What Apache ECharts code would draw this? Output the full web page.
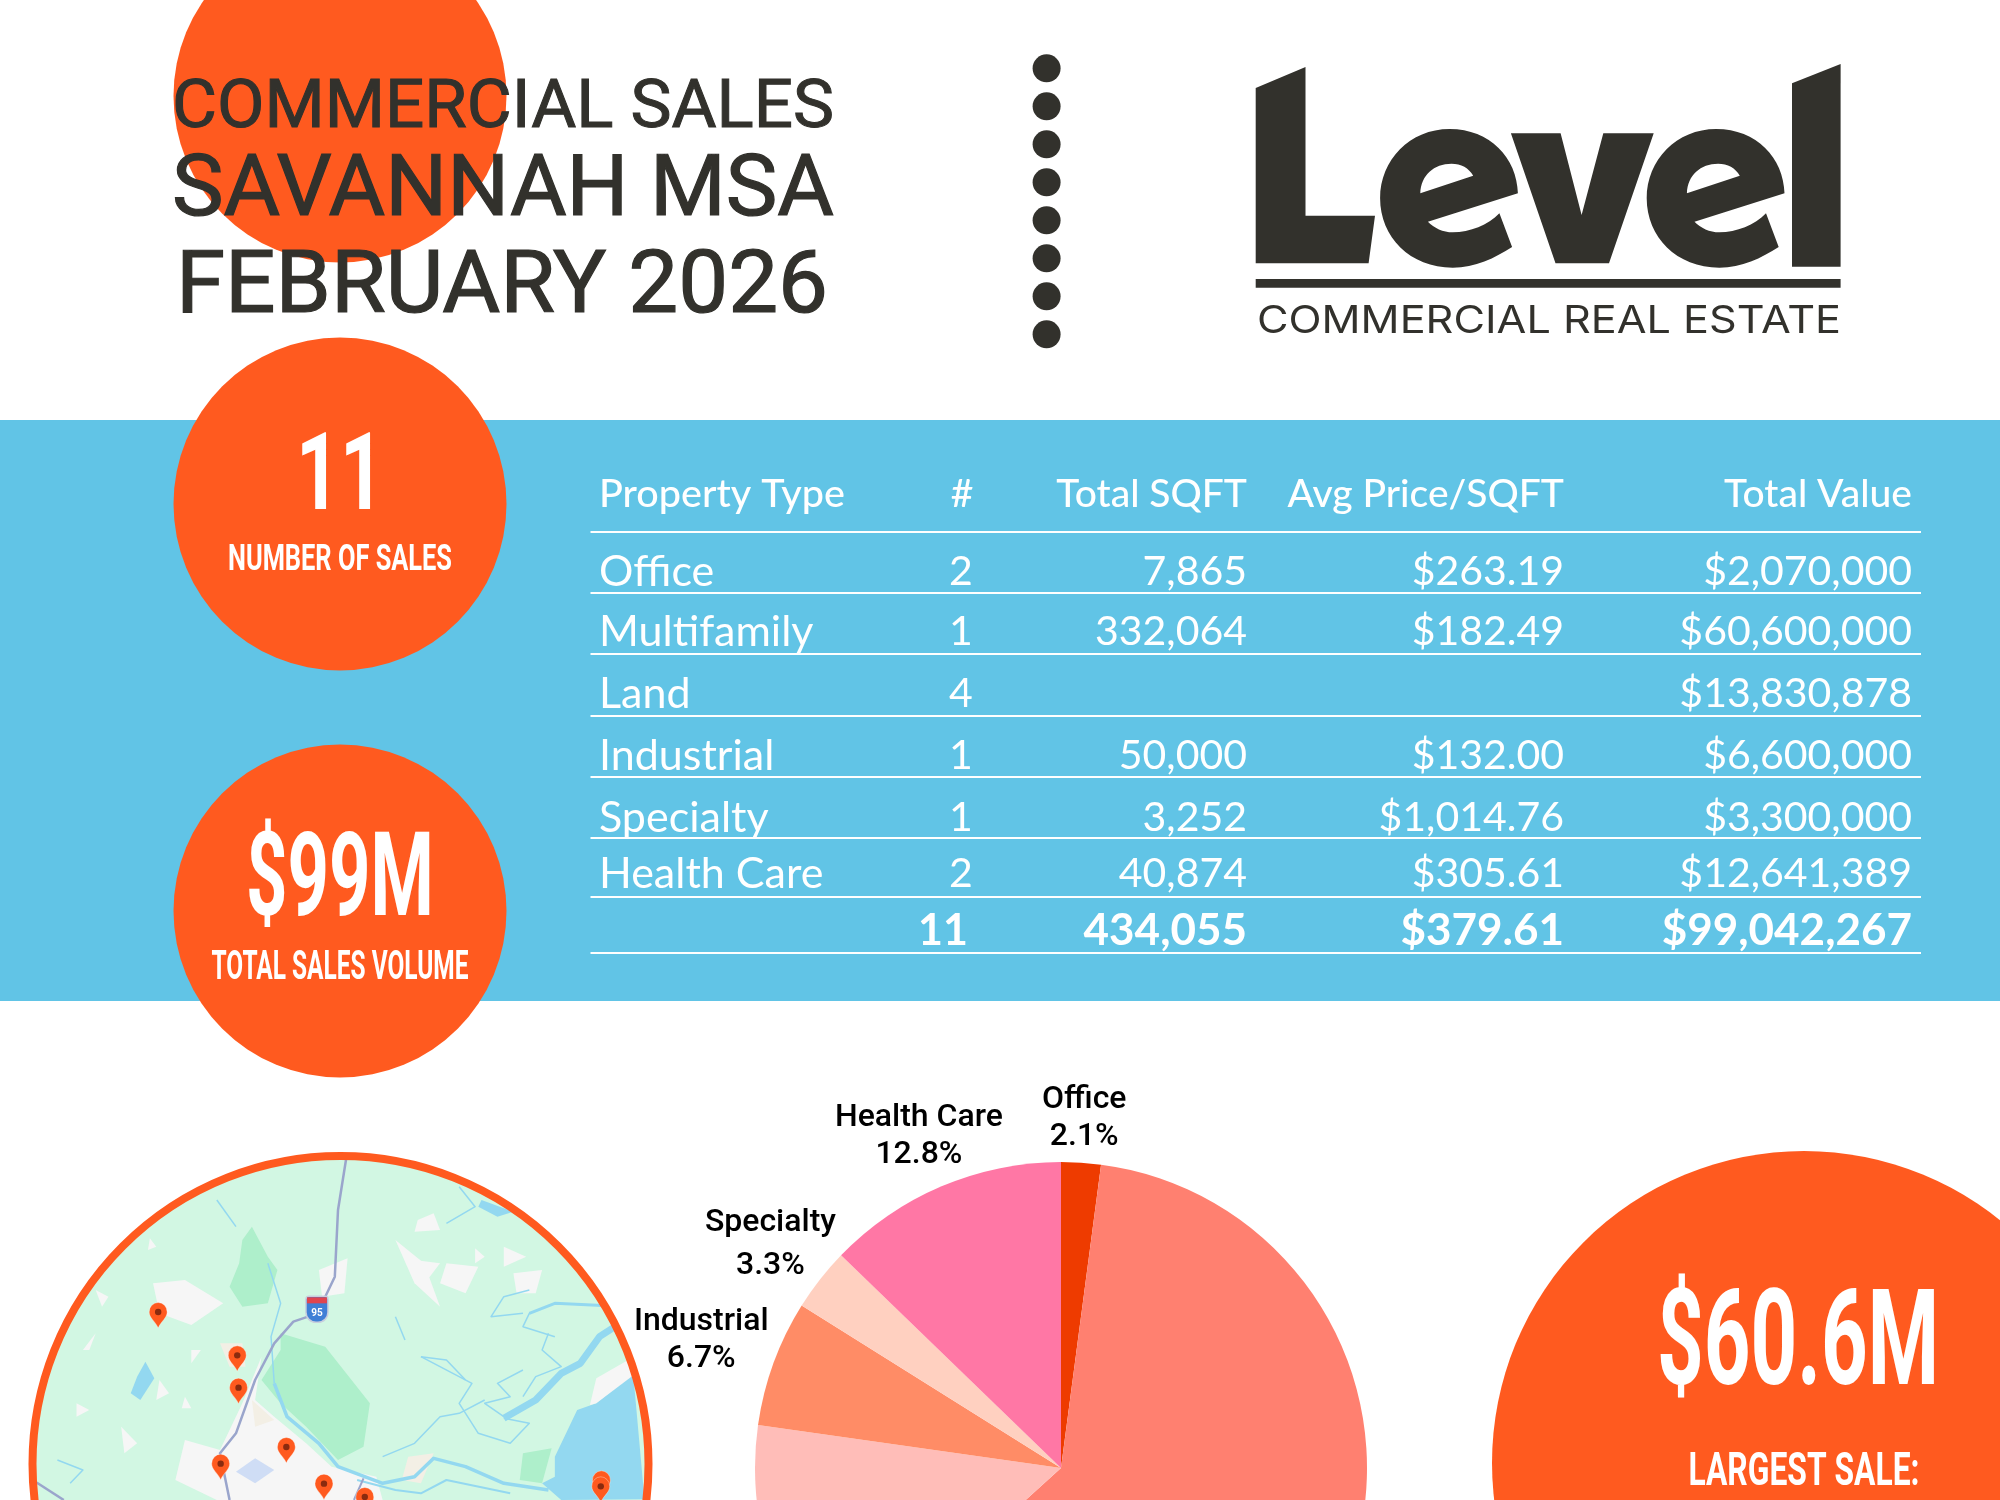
<!DOCTYPE html>
<html>
<head>
<meta charset="utf-8">
<title>Commercial Sales Savannah MSA February 2026</title>
<script src="https://cdn.jsdelivr.net/npm/echarts@6/dist/echarts.min.js"></script>
<style>
html,body{margin:0;padding:0;background:#fff;}
#main{width:2000px;height:1500px;}
</style>
</head>
<body>
<div id="main"></div>
<script>
var propertyTypes = ['Office','Multifamily','Land','Industrial','Specialty','Health Care'];
var saleCounts = ['2','1','4','1','1','2'];
var totalSqft = ['7,865','332,064','','50,000','3,252','40,874'];
var avgPrice = ['$263.19','$182.49','','$132.00','$1,014.76','$305.61'];
var totalValueText = ['$2,070,000','$60,600,000','$13,830,878','$6,600,000','$3,300,000','$12,641,389'];
var totalValues = [2070000,60600000,13830878,6600000,3300000,12641389];
var sliceColors = ['#EE3B00','#FF8070','#FFBDB8','#FF8C66','#FFD0C0','#FF77A5'];
var tableHeader = ['Property Type','#','Total SQFT','Avg Price/SQFT','Total Value'];
var tableTotals = ['11','434,055','$379.61','$99,042,267'];
var titleLines = ['COMMERCIAL SALES','SAVANNAH MSA','FEBRUARY 2026'];

var ORANGE = '#FF5A1F', DARK = '#32312C', BLUE = '#61C4E6';
var ctx = document.createElement('canvas').getContext('2d');
var g = [];

// text drawn at a baseline-ish center, squeezed to the wanted width if w is given
function txt(text, x, y, o){
    var font = (o.weight||400)+' '+o.size+'px '+(o.family||'Roboto');
    var sx = 1;
    if(o.w){
        ctx.font = font;
        sx = o.w/ctx.measureText(text).width;
    }
    var style = {
        text:text,x:0,y:0,font:font,fill:o.fill||'#fff',
        align:o.align||'left',verticalAlign:'middle'
    };
    if(o.stroke){
        style.stroke = o.fill;
        style.lineWidth = o.stroke;
    }
    g.push({type:'text',x:x,y:y,scaleX:sx,z:o.z||20,silent:true,style:style});
}
function circle(cx,cy,r,fill,z){
    g.push({type:'circle',z:z||5,silent:true,shape:{cx:cx,cy:cy,r:r},style:{fill:fill}});
}
// graphic has no plain path type, so svg strings get registered as shapes
var pathCount = 0;
function svgPath(p,x,y,style,z){
    var name = 'svgPath'+(pathCount++);
    echarts.graphic.registerShape(name,echarts.graphic.extendPath(p,{}));
    g.push({type:name,x:x,y:y,z:z,silent:true,style:style});
}

// background band and circles
g.push({type:'rect',z:1,silent:true,shape:{x:0,y:420,width:2000,height:581},style:{fill:BLUE}});
circle(340,96,166.5,ORANGE);
circle(340,504,166.5,ORANGE);
circle(340,911,166.5,ORANGE);
circle(1804,1463,312,ORANGE);

// title
txt(titleLines[0],172,110,{size:66,weight:400,w:662,fill:DARK,stroke:1});
txt(titleLines[1],172,193,{size:86,weight:400,w:662,fill:DARK,stroke:1.2});
txt(titleLines[2],176,290,{size:87,weight:400,w:652,fill:DARK,stroke:1.2});

// dots
for(var d=0;d<8;d++){
    circle(1046.6,68.3+d*38,14,DARK);
}

// logo
var eOuter = 'M517.9 193.3 L427.9 221.7 C434 228 443 232.3 452.8 232.3 C470 232.3 488 225 499.4 213.3 L512.1 247 C495 258 475 267.7 452.8 267.7 C410 267.7 380.1 237 380.1 198.3 C380.1 160 410 129 449.6 129 C490 129 517 158 517.9 193.3 Z';
var eHole = ' M420.3 193.3 L473.2 175.7 C469 168 461 163.7 451.5 163.7 C434 163.7 421 175 420.3 193.3 Z';
var logoPaths = [
    'M255.7 88 L305.5 67 L305.5 215.7 L375 215.7 L368.6 263.3 L255.7 263.3 Z',
    'M510.9 133.3 L560.6 133.3 L581.6 215 L603.3 133.3 L653.7 133.3 L609 263.3 L555.5 263.3 Z',
    'M792 83.3 L840.6 64 L840.6 266.7 L792 266.7 Z',
    'M255.7 279 L840.6 279 L840.6 287.7 L255.7 287.7 Z'
];
logoPaths.forEach(function(p){svgPath(p,1000,0,{fill:DARK},5);});
svgPath(eOuter+eHole,1000,0,{fill:DARK},5);
svgPath(eOuter+eHole,1266.6,0,{fill:DARK},5);
txt('COMMERCIAL REAL ESTATE',1257,322,{size:38,family:'Inter',weight:400,w:584,fill:DARK});

// kpi circles
txt('11',340,482,{size:108,weight:700,w:88,align:'center'});
txt('NUMBER OF SALES',340,561,{size:37,weight:700,w:224,align:'center'});
txt('$99M',340,886,{size:116,weight:700,w:188,align:'center'});
txt('TOTAL SALES VOLUME',340,969,{size:40,weight:700,w:257,align:'center'});
txt('$60.6M',1798,1350,{size:134,weight:700,w:282,align:'center'});
txt('LARGEST SALE:',1804,1473,{size:46,weight:700,w:231,align:'center'});

// table
var colRight = [1247,1564,1912];
var rowY = [572,632,694,756,818,874];
var lineY = [532,593,654,716,777,838,897,953];
var LATO = 'Lato';
lineY.forEach(function(y){
    g.push({type:'line',z:10,silent:true,shape:{x1:590.5,y1:y,x2:1921,y2:y},style:{stroke:'#fff',lineWidth:2}});
});
txt(tableHeader[0],599,494,{size:39,family:LATO,weight:500,w:246});
txt(tableHeader[1],962,494,{size:39,family:LATO,weight:500,align:'center'});
for(var h=2;h<5;h++){
    txt(tableHeader[h],colRight[h-2],494,{size:39,family:LATO,weight:500,align:'right'});
}
propertyTypes.forEach(function(name,i){
    txt(name,599,rowY[i],{size:43,family:LATO,weight:400});
    txt(saleCounts[i],961,rowY[i],{size:41,family:LATO,weight:400,align:'center'});
    if(totalSqft[i]) txt(totalSqft[i],colRight[0],rowY[i],{size:41,family:LATO,weight:400,align:'right'});
    if(avgPrice[i]) txt(avgPrice[i],colRight[1],rowY[i],{size:41,family:LATO,weight:400,align:'right'});
    txt(totalValueText[i],colRight[2],rowY[i],{size:41,family:LATO,weight:400,align:'right'});
});
txt(tableTotals[0],968,931,{size:43,family:LATO,weight:700,align:'right'});
txt(tableTotals[1],colRight[0],931,{size:44,family:LATO,weight:700,align:'right'});
txt(tableTotals[2],colRight[1],931,{size:44,family:LATO,weight:700,align:'right'});
txt(tableTotals[3],colRight[2],931,{size:44,family:LATO,weight:700,align:'right'});

// map picture, roughly traced (crop coords, see mp), kept inside the circle
var MCX = 340.5, MCY = 1464, MR = 306;
function mp(p){
    var x = p[0]/1.568, y = 1050+p[1]/3;
    var dx = x-MCX, dy = y-MCY, l = Math.sqrt(dx*dx+dy*dy);
    if(l>MR){ x = MCX+dx*MR/l; y = MCY+dy*MR/l; }
    return [x,y];
}
function mapPoly(pts,fill){
    g.push({type:'polygon',z:6,silent:true,shape:{points:pts.map(mp)},style:{fill:fill}});
}
function mapLine(pts,color,w){
    g.push({type:'polyline',z:7,silent:true,shape:{points:pts.map(mp)},style:{stroke:color,lineWidth:w,fill:null,lineJoin:'round'}});
}
var WATER = '#93D8F0', PARK = '#AEEFCB', URBAN = '#F6F6F6', SAND = '#F3EFE5';
circle(MCX,MCY,308,'#D2F7E3',6);
var urbanPatches = [
    [[240,700],[290,690],[350,760],[300,825],[250,790]],
    [[410,920],[380,1060],[345,1200],[290,1170],[275,1290],[340,1350],[600,1350],[590,1280],[520,1250],[480,1180],[430,1100],[400,1050]],
    [[500,660],[545,625],[540,730],[505,740]],
    [[655,510],[680,490],[690,540],[650,545]],
    [[620,570],[665,640],[690,770],[650,700]],
    [[790,590],[825,620],[790,650]],
    [[805,670],[850,660],[840,730],[810,730]],
    [[700,640],[750,650],[730,730],[690,700]],
    [[650,630],[690,640],[670,690]],
    [[745,595],[760,620],[745,640]],
    [[130,900],[150,850],[140,900]],
    [[250,990],[265,1030],[245,1050]],
    [[150,720],[170,740],[160,770]],
    [[120,1060],[140,1080],[120,1100]],
    [[235,565],[245,590],[232,600]],
    [[300,900],[315,900],[300,940]],
    [[290,1040],[300,1075],[285,1075]],
    [[190,1130],[215,1180],[195,1210]]
];
urbanPatches.forEach(function(p){mapPoly(p,URBAN);});
mapPoly([[345,880],[380,880],[385,950],[360,950]],SAND);
mapPoly([[395,1050],[430,1110],[400,1130]],SAND);
mapPoly([[640,1220],[680,1210],[660,1300],[630,1290]],SAND);
mapPoly([[395,530],[420,620],[435,660],[420,760],[380,770],[360,710],[375,640],[380,570]],PARK);
mapPoly([[440,850],[510,890],[580,1060],[570,1190],[530,1230],[480,1130],[440,1060],[410,990],[440,900]],PARK);
mapPoly([[820,1210],[865,1195],[850,1300],[815,1290]],PARK);
mapPoly([[1020,960],[990,975],[935,1060],[905,1080],[885,1160],[870,1220],[870,1280],[850,1300],[880,1350],[1020,1350]],WATER);
mapPoly([[925,1065],[935,985],[985,930],[995,975],[935,1060]],URBAN);
mapPoly([[228,935],[242,985],[220,1050],[205,1030],[215,980]],WATER);
mapPoly([[755,450],[805,485],[780,500],[750,470]],WATER);
mapPoly([[400,1225],[430,1260],[400,1300],[370,1265]],'#CFDDF5');
var riverLines = [
    [[950,760],[870,760],[830,790],[820,830],[870,860]],
    [[830,720],[790,740],[770,800],[820,790]],
    [[790,1105],[830,1120],[800,1180],[750,1150],[720,1060],[740,1000],[660,920]],
    [[340,450],[370,530]],
    [[720,410],[745,470],[700,520]],
    [[820,960],[780,1000],[800,1040],[760,1060],[790,1100]],
    [[860,850],[850,900],[880,950],[840,980],[820,1040]],
    [[760,1050],[720,1090],[690,1100],[650,1180],[600,1220]],
    [[620,800],[635,870]],
    [[660,920],[700,930],[730,990]],
    [[420,640],[440,760],[425,860],[430,1000]],
    [[90,1230],[130,1260],[110,1300]]
];
riverLines.forEach(function(r){mapLine(r,WATER,1.5);});
mapLine([[975,820],[940,860],[910,940],[880,970],[840,1050],[790,1105]],WATER,7);
mapLine([[950,760],[870,760],[830,790]],WATER,3);
mapLine([[430,1000],[450,1100],[500,1180],[530,1250],[600,1300],[650,1280],[680,1225],[730,1250],[790,1300],[860,1320]],WATER,3.5);
mapLine([[560,1290],[620,1320],[660,1330],[700,1290],[800,1330]],WATER,2);
mapLine([[543,320],[530,480],[525,680],[510,740],[498,790],[460,815],[430,880],[400,990],[370,1150],[345,1210],[360,1350]],'#9AA5CC',2.5);
mapLine([[50,1295],[100,1350]],'#9AA5CC',2.5);
mapLine([[570,1285],[555,1350]],'#9AA5CC',2);
// I-95 shield
var shield = mp([497,778]);
g.push({type:'rect',z:8,silent:true,shape:{x:shield[0]-11,y:shield[1]-13,width:22,height:26,r:[3,3,10,10]},style:{fill:'#3F7FD6',stroke:'#C8CEDD',lineWidth:1.5}});
g.push({type:'rect',z:8,silent:true,shape:{x:shield[0]-10,y:shield[1]-12,width:20,height:6},style:{fill:'#E0454F'}});
g.push({type:'text',z:9,silent:true,x:shield[0],y:shield[1]+4,style:{text:'95',font:'700 10px Roboto',fill:'#fff',align:'center',verticalAlign:'middle'}});
// pins
var pinSpots = [[248,795],[372,925],[374,1022],[449,1200],[346,1250],[508,1310],[943,1300],[942,1318],[572,1350]];
var pinShape = 'M0 13 C-3 6 -9 3 -9 -3 A9 9.5 0 1 1 9 -3 C9 3 3 6 0 13 Z';
pinSpots.forEach(function(s){
    var p = mp(s);
    svgPath(pinShape,p[0],p[1],{fill:ORANGE,stroke:'rgba(255,255,255,0.35)',lineWidth:1},9);
    g.push({type:'circle',z:9,silent:true,shape:{cx:p[0],cy:p[1]-3,r:3.2},style:{fill:'#8A2B0F'}});
});
g.push({type:'circle',z:10,silent:true,shape:{cx:MCX,cy:MCY,r:308},style:{fill:null,stroke:ORANGE,lineWidth:8}});

// pie labels sit centered on a ray through the slice middle
var pieCenter = [1061,1468];
var labelRadius = [354,380,380,383,369,364];
var pieTotal = totalValues.reduce(function(a,b){return a+b;},0);
var midAngle = [];
var run = 0;
totalValues.forEach(function(v){
    midAngle.push((run+v/2)/pieTotal*2*Math.PI);
    run += v;
});

var pieData = propertyTypes.map(function(name,i){
    return {name:name,value:totalValues[i],itemStyle:{color:sliceColors[i]}};
});
pieData[4].label = {lineHeight:43};

var myChart = echarts.init(document.getElementById('main'));
myChart.setOption({
    animation:false,
    backgroundColor:'#fff',
    graphic:{elements:g},
    series:[{
        type:'pie',
        center:pieCenter,
        radius:[0,306],
        startAngle:90,
        clockwise:true,
        silent:true,
        z:3,
        data:pieData,
        label:{
            show:true,
            // plain rounding, the default rounding makes health care 12.7
            formatter:function(p){
                return p.name+'\n'+(p.value/pieTotal*100).toFixed(1)+'%';
            },
            fontFamily:'Roboto',
            fontWeight:500,
            fontSize:32,
            lineHeight:37,
            color:'#000',
            align:'center'
        },
        labelLine:{show:false},
        labelLayout:function(p){
            var a = midAngle[p.dataIndex], r = labelRadius[p.dataIndex];
            return {
                x:pieCenter[0]+Math.sin(a)*r,
                y:pieCenter[1]-Math.cos(a)*r+4,
                align:'center',
                verticalAlign:'middle',
                hideOverlap:false
            };
        }
    }]
});
</script>
</body>
</html>
